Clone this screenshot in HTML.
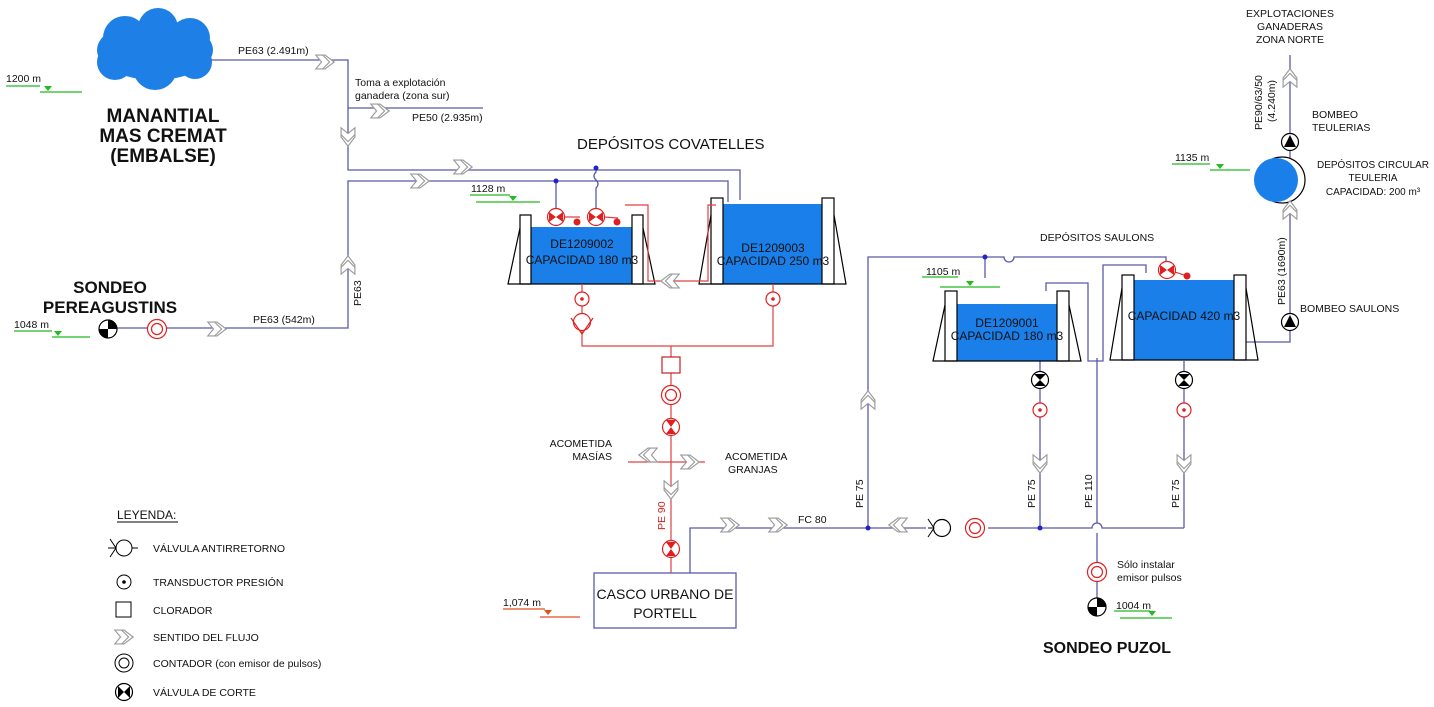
<!DOCTYPE html>
<html><head><meta charset="utf-8"><style>
html,body{margin:0;padding:0;background:#fff;}
svg{display:block;}
text{font-family:"Liberation Sans",sans-serif;fill:#111;}
</style></head><body>
<svg width="1434" height="707" viewBox="0 0 1434 707" xmlns="http://www.w3.org/2000/svg">
<defs>
<g id="fl" transform="scale(1.15)"><path d="M-8,-6 L0,-6 L8,0 L0,6 L-8,6 L-3,0 Z" fill="#fff" stroke="#9a9a9a" stroke-width="1"/><path d="M-2,-6 L4,0 L-2,6" fill="none" stroke="#9a9a9a"/></g>
<g id="vr"><circle r="8.5" fill="#fff" stroke="#e02020" stroke-width="1.2"/><path d="M-7,-5 L0,0 L-7,5Z M7,-5 L0,0 L7,5Z" fill="#e02020"/></g>
<g id="vb"><circle r="8.5" fill="#fff" stroke="#000" stroke-width="1.2"/><path d="M-6,-6 L0,0 L6,-6Z M-6,6 L0,0 L6,6Z" fill="#000"/></g>
<g id="tr"><circle r="7" fill="#fff" stroke="#e02020" stroke-width="1.2"/><circle r="1.8" fill="#e02020"/></g>
<g id="ct"><circle r="9.5" fill="#fff" stroke="#e02020" stroke-width="1.2"/><circle r="5.5" fill="none" stroke="#e02020" stroke-width="1.2"/></g>
<g id="pu"><circle r="8.5" fill="#fff" stroke="#000" stroke-width="1.2"/><path d="M0,-7 L6,5 L-6,5Z" fill="#000"/></g>
<g id="so"><circle r="9" fill="#fff" stroke="#000" stroke-width="1.2"/><path d="M0,0 L0,-9 A9,9 0 0 1 9,0Z M0,0 L0,9 A9,9 0 0 1 -9,0Z" fill="#000"/></g>
</defs>

<!-- cloud -->
<g fill="#1e80e6">
<ellipse cx="155" cy="50" rx="58" ry="30"/>
<circle cx="125" cy="38" r="22"/><circle cx="158" cy="28" r="20"/><circle cx="190" cy="38" r="20"/>
<circle cx="115" cy="62" r="18"/><circle cx="155" cy="68" r="22"/><circle cx="195" cy="62" r="17"/>
</g>
<text x="163" y="122" font-size="19" font-weight="bold" text-anchor="middle" font-family="DejaVu Sans,sans-serif">MANANTIAL</text>
<text x="163" y="142" font-size="19" font-weight="bold" text-anchor="middle" font-family="DejaVu Sans,sans-serif">MAS CREMAT</text>
<text x="163" y="162" font-size="19" font-weight="bold" text-anchor="middle" font-family="DejaVu Sans,sans-serif">(EMBALSE)</text>

<!-- blue pipes -->
<g fill="none" stroke="#5a5aa8" stroke-width="1.3">
<path d="M210,60 H348 V170 H740 V200"/>
<path d="M348,108 H483"/>
<path d="M728,202 V181 H348 V328 H112"/>
<path d="M556,181 V210 M596,168 V172 q-4,4 0,8 q4,4 0,8 V210"/>
<path d="M690,573 V528 H868 V257 H985 M985,257 H1004 A5,5 0 0 0 1014,257 H1166 V265"/>
<path d="M985,257 V278"/>
<path d="M868,528 H926 M988,528 H1092 A5,5 0 0 1 1102,528 H1184"/>
<path d="M1097,358 V523 M1097,533 V598"/>
<path d="M1046,291 V283 H1088 V361 H1103 V265 H1146 V273"/>
<path d="M1040,361 V528 M1184,361 V528"/>
<path d="M1234,342 H1290 V55"/>
<rect x="594" y="573" width="142" height="55"/>
</g>
<circle cx="556" cy="181" r="2.5" fill="#2222cc"/><circle cx="596" cy="168" r="2.5" fill="#2222cc"/>
<circle cx="985" cy="257" r="2.5" fill="#2222cc"/><circle cx="868" cy="528" r="2.5" fill="#2222cc"/><circle cx="1040" cy="528" r="2.5" fill="#2222cc"/>

<!-- tanks -->
<g stroke="#000" stroke-width="1.2">
<rect x="531" y="227" width="101" height="57" fill="#1a7fe8" stroke="none"/>
<rect x="520" y="215" width="11" height="69" fill="#fff"/><rect x="632" y="215" width="11" height="69" fill="#fff"/>
<path d="M520,228 L508,284 H655 L643,228" fill="none"/>
<rect x="723" y="204" width="99" height="80" fill="#1a7fe8" stroke="none"/>
<rect x="711" y="198" width="12" height="86" fill="#fff"/><rect x="822" y="198" width="12" height="86" fill="#fff"/>
<path d="M711,215 L699,284 H846 L834,215" fill="none"/>
<rect x="957" y="304" width="100" height="57" fill="#1a7fe8" stroke="none"/>
<rect x="945" y="291" width="12" height="70" fill="#fff"/><rect x="1057" y="291" width="12" height="70" fill="#fff"/>
<path d="M945,305 L933,361 H1081 L1069,305" fill="none"/>
<rect x="1134" y="280" width="100" height="80" fill="#1a7fe8" stroke="none"/>
<rect x="1122" y="275" width="12" height="85" fill="#fff"/><rect x="1234" y="275" width="12" height="85" fill="#fff"/>
<path d="M1122,288 L1110,360 H1258 L1246,288" fill="none"/>
</g>
<g font-size="12" text-anchor="middle" fill="#0a1a50">
<text x="582" y="248">DE1209002</text><text x="582" y="264">CAPACIDAD 180 m3</text>
<text x="773" y="252">DE1209003</text><text x="773" y="265">CAPACIDAD 250 m3</text>
<text x="1007" y="327">DE1209001</text><text x="1007" y="340">CAPACIDAD 180 m3</text>
<text x="1184" y="320">CAPACIDAD 420 m3</text>
</g>

<!-- red pipes -->
<g fill="none" stroke="#e04040" stroke-width="1.2">
<path d="M625,205 H648 V281 H708 V205 H716"/>
<path d="M582,284 V346 H773 V284"/>
<path d="M671,346 V573"/>
<path d="M628,462 H705"/>
<path d="M564,217 L580,217 M604,217 L618,218"/>
</g>
<rect x="662" y="357" width="18" height="16" fill="#fff" stroke="#c02020" stroke-width="1.2"/>
<use href="#vr" x="556" y="217"/><use href="#vr" x="596" y="217"/>
<circle cx="577" cy="222" r="3.5" fill="#e02020"/><circle cx="617" cy="222" r="3.5" fill="#e02020"/>
<use href="#vr" x="1167" y="270"/><circle cx="1187" cy="276" r="3.5" fill="#e02020"/><path d="M1175,272 L1184,275" stroke="#e02020"/>
<use href="#tr" x="582" y="299"/><use href="#tr" x="773" y="299"/>
<g transform="translate(582,322)"><circle r="8.5" fill="#fff" stroke="#e02020" stroke-width="1.2"/><path d="M-11,-4 L0,12 L11,-4" fill="none" stroke="#e02020" stroke-width="1.2"/></g>
<use href="#ct" x="671" y="395"/>
<g transform="translate(671,427) rotate(90)"><use href="#vr"/></g>
<g transform="translate(671,549) rotate(90)"><use href="#vr"/></g>
<use href="#tr" x="1040" y="410"/><use href="#tr" x="1184" y="410"/>
<use href="#vb" x="1040" y="380"/><use href="#vb" x="1184" y="380"/>
<g transform="translate(942,528)"><circle r="8.5" fill="#fff" stroke="#000" stroke-width="1.2"/><path d="M-14,-9 L-8,0 L-14,9 M-8,0 H-14" fill="none" stroke="#000"/></g>
<use href="#ct" x="975" y="528"/>
<use href="#ct" x="1097" y="572"/>
<use href="#so" x="1097" y="607"/>
<use href="#so" x="108" y="329"/>
<use href="#ct" x="157" y="329"/>
<use href="#pu" x="1290" y="322"/><use href="#pu" x="1290" y="142"/>
<circle cx="1282" cy="180" r="23" fill="#fff" stroke="#000" stroke-width="1.2"/>
<circle cx="1276" cy="180" r="22" fill="#1a7fe8"/>

<!-- flow arrows -->
<use href="#fl" x="325" y="62"/><use href="#fl" x="380" y="111"/><use href="#fl" x="463" y="167"/><use href="#fl" x="420" y="181"/>
<g transform="translate(348,137) rotate(90)"><use href="#fl"/></g>
<g transform="translate(348,265) rotate(-90)"><use href="#fl"/></g>
<use href="#fl" x="217" y="329"/>
<g transform="translate(670,281) rotate(180)"><use href="#fl"/></g>
<g transform="translate(648,455) rotate(180)"><use href="#fl"/></g>
<use href="#fl" x="690" y="462"/>
<g transform="translate(671,490) rotate(90)"><use href="#fl"/></g>
<use href="#fl" x="730" y="525"/><use href="#fl" x="778" y="525"/>
<g transform="translate(898,525) rotate(180)"><use href="#fl"/></g>
<g transform="translate(868,400) rotate(-90)"><use href="#fl"/></g>
<g transform="translate(1040,464) rotate(90)"><use href="#fl"/></g>
<g transform="translate(1184,464) rotate(90)"><use href="#fl"/></g>
<g transform="translate(1290,210) rotate(-90)"><use href="#fl"/></g>
<g transform="translate(1290,78) rotate(-90)"><use href="#fl"/></g>

<!-- levels -->
<g stroke="#22bb22" stroke-width="1.3">
<path d="M6,86 H40 M40,92 H82"/><path d="M14,331 H52 M52,337 H90"/>
<path d="M470,195 H510 M476,202 H540"/><path d="M922,277 H958 M940,287 H1000"/>
<path d="M1172,164 H1210 M1210,170 H1250"/><path d="M1114,611 H1150 M1120,618 H1172"/>
</g>
<g fill="#22bb22"><path d="M44,86 h8 l-4,5z"/><path d="M54,331 h8 l-4,5z"/><path d="M509,196 h8 l-4,5z"/><path d="M966,281 h8 l-4,5z"/><path d="M1216,164 h8 l-4,5z"/><path d="M1148,611 h8 l-4,5z"/></g>
<path d="M503,609 H545 M540,617 H580" stroke="#e05020" stroke-width="1.3"/><path d="M544,610 h8 l-4,5z" fill="#e05020"/>
<g font-size="10.5">
<text x="6" y="82">1200 m</text><text x="14" y="328">1048 m</text><text x="471" y="192">1128 m</text>
<text x="926" y="275">1105 m</text><text x="1175" y="161">1135 m</text><text x="1116" y="609">1004 m</text>
<text x="503" y="606">1,074 m</text>
</g>

<!-- labels -->
<g font-size="10.5">
<text x="238" y="54">PE63 (2.491m)</text>
<text x="355" y="86">Toma a explotación</text><text x="355" y="99">ganadera (zona sur)</text>
<text x="412" y="121">PE50 (2.935m)</text>
<text x="253" y="323">PE63 (542m)</text>
<text transform="translate(361,306) rotate(-90)">PE63</text>
<text x="612" y="447" text-anchor="end">ACOMETIDA</text><text x="612" y="460" text-anchor="end">MASÍAS</text>
<text x="725" y="460">ACOMETIDA</text><text x="728" y="473">GRANJAS</text>
<text x="798" y="523">FC 80</text>
<text transform="translate(863,508) rotate(-90)">PE 75</text>
<text transform="translate(1035,508) rotate(-90)">PE 75</text>
<text transform="translate(1092,508) rotate(-90)">PE 110</text>
<text transform="translate(1179,508) rotate(-90)">PE 75</text>
<text transform="translate(665,530) rotate(-90)" style="fill:#d02020">PE 90</text>
<text transform="translate(1285,305) rotate(-90)">PE63 (1690m)</text>
<text transform="translate(1262,130) rotate(-90)">PE90/63/50</text>
<text transform="translate(1275,122) rotate(-90)">(4.240m)</text>
<text x="1290" y="17" text-anchor="middle">EXPLOTACIONES</text><text x="1290" y="30" text-anchor="middle">GANADERAS</text><text x="1290" y="43" text-anchor="middle">ZONA NORTE</text>
<text x="1312" y="118">BOMBEO</text><text x="1312" y="131">TEULERIAS</text>
<text x="1300" y="312">BOMBEO SAULONS</text>
<text x="1040" y="241">DEPÓSITOS SAULONS</text>
<text x="1117" y="568">Sólo instalar</text><text x="1117" y="581">emisor pulsos</text>
</g>
<g font-size="10" text-anchor="middle">
<text x="1373" y="168">DEPÓSITOS CIRCULAR</text><text x="1373" y="181">TEULERIA</text><text x="1373" y="195">CAPACIDAD: 200 m³</text>
</g>
<text x="577" y="149" font-size="15">DEPÓSITOS COVATELLES</text>
<text x="665" y="599" font-size="14" text-anchor="middle">CASCO URBANO DE</text>
<text x="665" y="618" font-size="14" text-anchor="middle">PORTELL</text>
<text x="110" y="293" font-size="17" font-weight="bold" text-anchor="middle" font-family="DejaVu Sans,sans-serif">SONDEO</text>
<text x="110" y="313" font-size="17" font-weight="bold" text-anchor="middle" font-family="DejaVu Sans,sans-serif">PEREAGUSTINS</text>
<text x="1107" y="653" font-size="16" font-weight="bold" text-anchor="middle" font-family="DejaVu Sans,sans-serif">SONDEO PUZOL</text>

<!-- legend -->
<text x="117" y="519" font-size="12">LEYENDA:</text>
<path d="M117,522 H178" stroke="#000"/>
<g transform="translate(124,548)"><circle r="8" fill="#fff" stroke="#000"/><path d="M-14,-9 L-8,0 L-14,9 M-8,0 H-16 M8,0 H14" fill="none" stroke="#000"/></g>
<g transform="translate(124,582)"><circle r="7" fill="#fff" stroke="#000"/><circle r="1.8"/></g>
<rect x="116" y="602" width="15" height="15" fill="#fff" stroke="#000"/>
<use href="#fl" x="124" y="637"/>
<g transform="translate(124,663)"><circle r="9" fill="#fff" stroke="#000"/><circle r="5" fill="none" stroke="#000"/></g>
<g transform="translate(124,692) rotate(90)"><use href="#vb"/></g>
<g font-size="10.5">
<text x="153" y="552">VÁLVULA ANTIRRETORNO</text>
<text x="153" y="586">TRANSDUCTOR PRESIÓN</text>
<text x="153" y="614">CLORADOR</text>
<text x="153" y="641">SENTIDO DEL FLUJO</text>
<text x="153" y="667">CONTADOR (con emisor de pulsos)</text>
<text x="153" y="696">VÁLVULA DE CORTE</text>
</g>
</svg>
</body></html>
